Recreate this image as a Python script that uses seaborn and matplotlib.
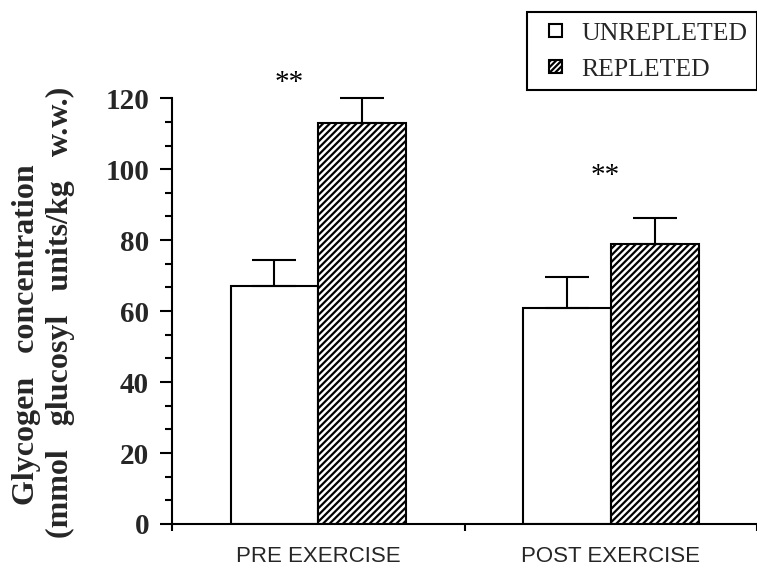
import numpy as np
import pandas as pd
import matplotlib
matplotlib.use("Agg")
import matplotlib.pyplot as plt
from matplotlib.patches import Patch, Rectangle
from matplotlib.legend_handler import HandlerPatch
from matplotlib.ticker import FixedLocator
import seaborn as sns

# Muscle glycogen, mean + SEM
phases = ["PRE EXERCISE", "POST EXERCISE"]
groups = ["UNREPLETED", "REPLETED"]
unrepleted_mean = [67, 61]
repleted_mean = [113, 79]
unrepleted_sem = [7.5, 8.5]
repleted_sem = [7.2, 7.2]
significance = ["**", "**"]
y_ticks = [0, 20, 40, 60, 80, 100, 120]

sns.set_theme(style="white")
plt.rcParams["font.family"] = ["Liberation Serif", "DejaVu Serif"]
plt.rcParams["hatch.linewidth"] = 1.6
plt.rcParams["hatch.color"] = "black"

df = pd.DataFrame({
    "phase": phases * 2,
    "group": [groups[0]] * len(phases) + [groups[1]] * len(phases),
    "value": unrepleted_mean + repleted_mean,
})

W, H = 757, 573
fig = plt.figure(figsize=(W / 100, H / 100), dpi=100)
ax = fig.add_axes([172 / W, 49 / H, 585 / W, 479 / H])

sns.barplot(data=df, x="phase", y="value", hue="group", order=phases,
            hue_order=groups, palette=["white", "white"], edgecolor="black",
            linewidth=1.5, width=0.6, errorbar=None, legend=False, ax=ax)

# hatch the repleted bars
for p in ax.containers[1]:
    p.set_hatch("/////")

# one-sided (upper) error bars
for cont, sem in zip(ax.containers, [unrepleted_sem, repleted_sem]):
    xs = [p.get_x() + p.get_width() / 2 for p in cont]
    ys = [p.get_height() for p in cont]
    ax.errorbar(xs, ys, yerr=[np.zeros(len(sem)), sem], fmt="none",
                ecolor="black", elinewidth=1.5, capsize=16, capthick=1.5,
                zorder=3)

# significance markers
star_pos = [(-0.10, 124.4), (0.98, 98.2)]
for (sx, sy), s in zip(star_pos, significance):
    ax.text(sx, sy, s, ha="center", va="center", fontsize=21, color="black")

ax.set_xlim(-0.5, 1.5)
ax.set_ylim(0, 135)
ax.set_yticks(y_ticks)
minor = [t + k * 20 / 3 for t in y_ticks[:-1] for k in (1, 2)]
ax.yaxis.set_minor_locator(FixedLocator(minor))
ax.set_yticklabels([str(t) for t in y_ticks], fontsize=21, fontweight="bold")

ax.set_xticks(range(len(phases)))
ax.set_xticklabels(phases, fontsize=16, family=["Liberation Sans"])
ax.set_xticks([-0.5, 0.5, 1.5], minor=True)
ax.tick_params(axis="x", which="major", length=0, pad=16)
ax.tick_params(axis="x", which="minor", length=5, width=1.5, direction="out",
               color="black", bottom=True)
ax.tick_params(axis="y", which="major", length=8.5, width=1.5, direction="out",
               color="black", pad=8, left=True)
ax.tick_params(axis="y", which="minor", length=5, width=1.5, direction="out",
               color="black", left=True)

for s in ["top", "right"]:
    ax.spines[s].set_visible(False)
for s in ["left", "bottom"]:
    ax.spines[s].set_color("black")
    ax.spines[s].set_linewidth(1.5)
ax.spines["left"].set_bounds(0, 120)
ax.set_xlabel("")
ax.set_ylabel("")

# two-line y-axis title
fig.text(27 / W, 1 - 335 / H, "Glycogen   concentration",
         rotation=90, ha="center", va="center", fontsize=23, fontweight="bold")
fig.text(60 / W, 1 - 312 / H, "(mmol   glucosyl   units/kg   w.w.)",
         rotation=90, ha="center", va="center", fontsize=23, fontweight="bold")


def small_square(legend, orig_handle, xdescent, ydescent, width, height,
                 fontsize):
    s = 0.5 * fontsize
    return Rectangle((-xdescent + (width - s) / 2, -ydescent + (height - s) / 2),
                     s, s)


handles = [
    Patch(facecolor="white", edgecolor="black", linewidth=1.5),
    Patch(facecolor="white", edgecolor="black", linewidth=1.5, hatch="//////"),
]
leg = fig.legend(handles, groups, loc="upper right",
                 bbox_to_anchor=(1.0, 1 - 12 / H), fontsize=18.5,
                 frameon=True, fancybox=False, framealpha=1,
                 handlelength=1.5, handleheight=0.7, handletextpad=0.25,
                 labelspacing=0.5, borderpad=0.38, borderaxespad=0,
                 handler_map={Patch: HandlerPatch(patch_func=small_square)})
leg.get_frame().set_edgecolor("black")
leg.get_frame().set_linewidth(1.5)

fig.savefig("out.png", dpi=100, facecolor="white")
